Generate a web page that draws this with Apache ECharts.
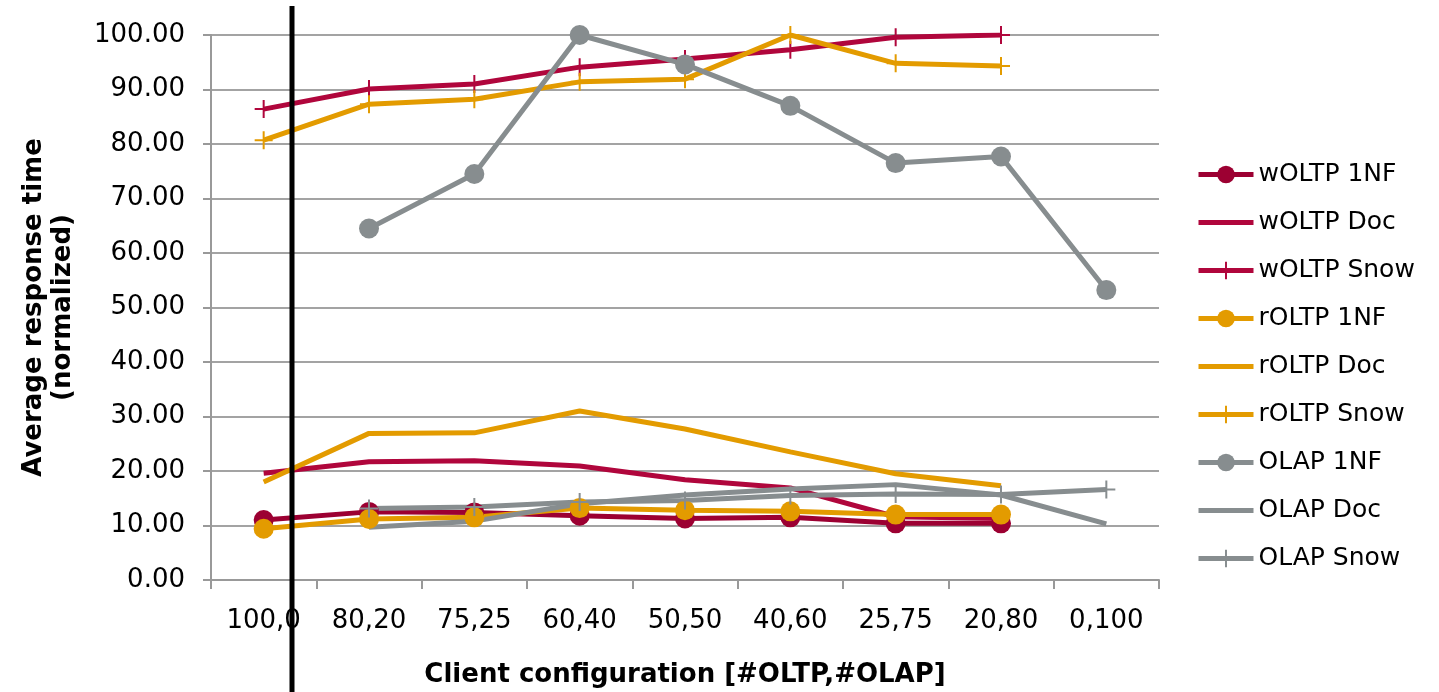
<!DOCTYPE html>
<html>
<head>
<meta charset="utf-8">
<script src="https://cdn.jsdelivr.net/npm/echarts@6/dist/echarts.min.js"></script>
<style>
  html, body { margin: 0; padding: 0; background: #ffffff; }
  #chart { width: 1439px; height: 692px; }
</style>
</head>
<body>
<div id="chart"></div>
<script>
// Client configurations [#OLTP,#OLAP]
const categories = ['100,0', '80,20', '75,25', '60,40', '50,50', '40,60', '25,75', '20,80', '0,100'];

// Average response time (normalized), one array per workload / schema
const wOLTP1NF  = [11.0, 12.5, 12.4, 11.8, 11.3, 11.5, 10.4, 10.4, null];
const wOLTPDoc  = [19.6, 21.7, 21.9, 20.9, 18.4, 16.9, 11.6, 11.3, null];
const wOLTPSnow = [86.4, 90.1, 91.0, 94.1, 95.6, 97.3, 99.6, 100.0, null];
const rOLTP1NF  = [9.4, 11.2, 11.5, 13.2, 12.8, 12.6, 12.0, 12.0, null];
const rOLTPDoc  = [18.0, 26.9, 27.0, 31.0, 27.7, 23.5, 19.5, 17.3, null];
const rOLTPSnow = [80.7, 87.3, 88.2, 91.4, 91.9, 100.0, 94.8, 94.3, null];
const olap1NF   = [null, 64.5, 74.5, 100.0, 94.6, 87.0, 76.5, 77.7, 53.2];
const olapDoc   = [null, 9.7, 10.8, 14.0, 15.6, 16.7, 17.5, 15.6, 10.3];
const olapSnow  = [null, 13.1, 13.4, 14.3, 14.6, 15.5, 15.8, 15.7, 16.6];

const seriesNames = ['wOLTP 1NF', 'wOLTP Doc', 'wOLTP Snow',
                     'rOLTP 1NF', 'rOLTP Doc', 'rOLTP Snow',
                     'OLAP 1NF', 'OLAP Doc', 'OLAP Snow'];

const FONT = 'Verdana, "DejaVu Sans", sans-serif';
const PLUS = 'path://M8,0h2v8h8v2h-8v8h-2v-8h-8v-2h8z';
const LINE_ICON = 'path://M0,0M0,22M0,8.5h55v5h-55z';

const colors = {
  darkRed: '#9c0032',
  crimson: '#b0063c',
  orange: '#e39b00',
  gray: '#878d8f'
};

function makeSeries(name, data, color, kind) {
  const s = {
    name: name,
    type: 'line',
    data: data,
    lineStyle: { color: color, width: 5 },
    itemStyle: { color: color, opacity: 1 },
    emphasis: { disabled: true },
    animation: false
  };
  if (kind === '1NF') {
    s.symbol = 'circle';
    s.symbolSize = 20;
    s.showSymbol = true;
  } else if (kind === 'Snow') {
    s.symbol = PLUS;
    s.symbolSize = 18;
    s.showSymbol = true;
  } else {
    s.symbol = 'none';
    s.showSymbol = false;
  }
  return s;
}

const series = [
  makeSeries(seriesNames[0], wOLTP1NF, colors.darkRed, '1NF'),
  makeSeries(seriesNames[1], wOLTPDoc, colors.crimson, 'Doc'),
  makeSeries(seriesNames[2], wOLTPSnow, colors.crimson, 'Snow'),
  makeSeries(seriesNames[3], rOLTP1NF, colors.orange, '1NF'),
  makeSeries(seriesNames[4], rOLTPDoc, colors.orange, 'Doc'),
  makeSeries(seriesNames[5], rOLTPSnow, colors.orange, 'Snow'),
  makeSeries(seriesNames[6], olap1NF, colors.gray, '1NF'),
  makeSeries(seriesNames[7], olapDoc, colors.gray, 'Doc'),
  makeSeries(seriesNames[8], olapSnow, colors.gray, 'Snow')
];

const legendData = seriesNames.map(function (n) {
  return /Doc$/.test(n) ? { name: n, icon: LINE_ICON } : { name: n };
});

const chart = echarts.init(document.getElementById('chart'), null, { renderer: 'canvas' });

chart.setOption({
  animation: false,
  backgroundColor: '#ffffff',
  grid: {
    left: 211, right: 280, top: 35, bottom: 112,
    containLabel: false, outerBoundsMode: 'none'
  },
  legend: {
    orient: 'vertical',
    left: 1191,
    top: 157,
    itemWidth: 55,
    itemHeight: 22,
    itemGap: 23,
    data: legendData,
    selectedMode: false,
    lineStyle: { width: 5 },
    textStyle: { fontFamily: FONT, fontSize: 25, color: '#000', lineHeight: 22 }
  },
  xAxis: {
    type: 'category',
    data: categories,
    boundaryGap: true,
    name: 'Client configuration [#OLTP,#OLAP]',
    nameLocation: 'middle',
    nameGap: 82,
    nameTextStyle: { fontFamily: FONT, fontSize: 26, fontWeight: 'bold', color: '#000' },
    axisLine: { lineStyle: { color: '#999999', width: 2 } },
    axisTick: { show: true, length: 9, lineStyle: { color: '#999999', width: 2 } },
    axisLabel: { fontFamily: FONT, fontSize: 26, color: '#000', margin: 28, interval: 0 },
    splitLine: { show: false }
  },
  yAxis: {
    type: 'value',
    min: 0, max: 100, interval: 10,
    name: 'Average response time\n(normalized)',
    nameLocation: 'middle',
    nameGap: 133,
    nameRotate: 90,
    nameTextStyle: { fontFamily: FONT, fontSize: 26, fontWeight: 'bold', color: '#000', lineHeight: 29, align: 'center' },
    axisLine: { show: true, lineStyle: { color: '#999999', width: 2 } },
    axisTick: { show: true, length: 8, lineStyle: { color: '#999999', width: 2 } },
    axisLabel: {
      fontFamily: FONT, fontSize: 26, color: '#000', margin: 26,
      formatter: function (v) { return v.toFixed(2); }
    },
    splitLine: { show: true, lineStyle: { color: '#a3a3a3', width: 2 } }
  },
  series: series
});

// Vertical separator just right of the first configuration
const xa = chart.convertToPixel({ xAxisIndex: 0 }, categories[0]);
const xb = chart.convertToPixel({ xAxisIndex: 0 }, categories[1]);
const xm = Math.round(xa + (xb - xa) * 0.265);
chart.setOption({
  graphic: [{
    type: 'line',
    z: 100,
    shape: { x1: xm, y1: 6, x2: xm, y2: 692 },
    style: { stroke: '#000000', lineWidth: 5 }
  }]
});
</script>
</body>
</html>
